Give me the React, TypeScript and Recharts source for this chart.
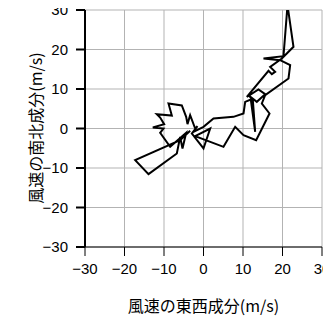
import React from 'react';
import { LineChart, Line, XAxis, YAxis, CartesianGrid } from 'recharts';

// Hodograph: eastward (u) and northward (v) wind components, m/s
const U = [
  -3.38, -5.91, -17.3, -13.92, -6.75, -5.91, -5.32, -4.39, -8.44, -10.97,
  -10.13, -12.83, -9.96, -10.97, -11.81, -8.02, -8.86, -5.49, -4.39, -4.05,
  -3.38, -2.11, -1.52, -2.95, 0, 1.69, -2.11, 5.06, 8.02, 10.13,
  13.33, 16.71, 14.77, 15.61, 21.52, 21.94, 19.41, 15.19, 20.25, 21.27,
  22.78, 19.83, 16.88, 18.14, 17.3, 16.46, 10.97, 13.92, 15.61, 13.5,
  11.39, 12.49, 13.08, 11.98, 10.55, 10.13, 7.59, 2.53, 0, -2.53,
];
const V = [
  -0.59, -2.95, -8.02, -11.56, -6.33, -2.11, -5.06, -1.1, -4.64, -1.1,
  0, 0.25, 1.1, 2.78, 3.63, 3.29, 6.33, 5.82, 2.95, 1.1,
  3.38, 0, 0.59, -1.27, -5.06, 0, -1.94, -4.64, 0.42, -1.69,
  -2.95, 3.8, 6.33, 8.44, 12.66, 16.03, 17.3, 17.72, 18.31, 31.2,
  20.68, 17.72, 15.61, 14.35, 13.76, 14.6, 8.02, 9.87, 8.69, 6.75,
  8.44, 7.17, -0.84, 7.34, 6.75, 3.8, 2.95, 2.53, 0.42, -0.84,
];
const TICKS = [-30, -20, -10, 0, 10, 20, 30];
const X_TITLE = '風速の東西成分(m/s)';
const Y_TITLE = '風速の南北成分(m/s)';

const data = U.map((u, i) => ({ u, v: V[i] }));

const FONT = '"Liberation Sans", Arial, sans-serif';
const CJK = '"Noto Sans CJK JP", sans-serif';

const fmt = (v: number) => (v < 0 ? '\u2212' + Math.abs(v) : String(v));

const titleStyle: React.CSSProperties = {
  position: 'absolute',
  fontFamily: CJK,
  fontSize: 16,
  lineHeight: '20px',
  color: '#000',
  whiteSpace: 'nowrap',
};

export default function App() {
  return (
    <div style={{ position: 'relative', width: 323, height: 310 }}>
      <LineChart width={323} height={310} data={data} margin={{ top: 2, right: 9, bottom: 10, left: 10 }}>
        <CartesianGrid stroke="#b3b3b3" />
        <XAxis
          type="number"
          dataKey="u"
          domain={[-30, 30]}
          ticks={TICKS}
          interval={0}
          height={61}
          allowDataOverflow
          tickSize={9}
          tickMargin={7}
          tickFormatter={fmt}
          tick={{ fontSize: 15, fill: '#000', fontFamily: FONT }}
          stroke="#000"
        />
        <XAxis
          xAxisId="top"
          orientation="top"
          type="number"
          dataKey="u"
          domain={[-30, 30]}
          ticks={TICKS}
          height={0}
          tick={false}
          stroke="#000"
        />
        <YAxis
          type="number"
          dataKey="v"
          domain={[-30, 30]}
          ticks={TICKS}
          interval={0}
          width={67}
          allowDataOverflow
          tickSize={9}
          tickMargin={8}
          tickFormatter={fmt}
          tick={{ fontSize: 15, fill: '#000', fontFamily: FONT }}
          stroke="#000"
          strokeWidth={2}
        />
        <YAxis
          yAxisId="right"
          orientation="right"
          type="number"
          dataKey="v"
          domain={[-30, 30]}
          ticks={TICKS}
          width={0}
          tick={false}
          stroke="#000"
          allowDataOverflow
        />
        <Line xAxisId="top" yAxisId="right" dataKey="v" stroke="none" dot={false} isAnimationActive={false} />
        <Line type="linear" dataKey="v" stroke="#000" strokeWidth={2} dot={false} isAnimationActive={false} />
      </LineChart>
      <div style={{ ...titleStyle, left: 77, width: 237, top: 287, textAlign: 'center' }}>{X_TITLE}</div>
      <div style={{ ...titleStyle, left: 27, top: 120, transform: 'translate(-50%, -50%) rotate(-90deg)' }}>{Y_TITLE}</div>
    </div>
  );
}
